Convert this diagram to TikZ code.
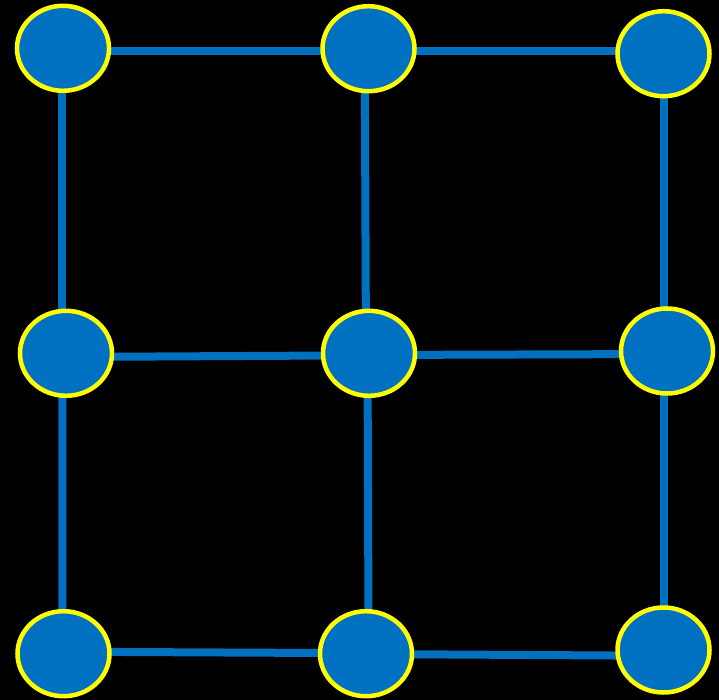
\documentclass[tikz,border=0pt]{standalone}
\usetikzlibrary{shapes.geometric,calc}
\definecolor{nodeblue}{HTML}{0070C0}
\definecolor{rimyellow}{HTML}{FFFF00}
\pgfdeclarelayer{backdrop}
\pgfdeclarelayer{bg}
\pgfsetlayers{backdrop,bg,main}
\tikzset{
  vert/.style={ellipse, fill=nodeblue, draw=rimyellow, line width=4.5pt, minimum width=92pt, minimum height=85pt, inner sep=0pt},
  link/.style={draw=nodeblue, line width=8pt}
}
\begin{document}
\begin{tikzpicture}[x=1pt,y=-1pt]
\begin{pgfonlayer}{backdrop}
\fill[black] (0,0) rectangle (719,700);
\end{pgfonlayer}
\useasboundingbox (0,0) rectangle (719,700);
\node[vert] (a1) at (63,48.3) {};
\node[vert] (a2) at (368.5,48.7) {};
\node[vert] (a3) at (663.5,53.7) {};
\node[vert] (b1) at (66,353.3) {};
\node[vert] (b2) at (369,353.3) {};
\node[vert] (b3) at (667,351) {};
\node[vert] (c1) at (63.5,653.7) {};
\node[vert] (c2) at (366,653.7) {};
\node[vert] (c3) at (663.5,650) {};
\begin{pgfonlayer}{bg}
\path[link] ($(a1)+(0,2.7)$) -- ($(a2)+(0,2.3)$);
\path[link] ($(a2)+(0,2.3)$) -- ($(a3)+(0,-2.7)$);
\path[link] ($(b1)+(0,3.7)$) -- ($(b2)+(0,2)$);
\path[link] ($(b2)+(0,1.7)$) -- ($(b3)+(0,3)$);
\path[link] ($(c1)+(0,-2)$) -- ($(c2)+(0,-0.5)$);
\path[link] ($(c2)+(0,0.3)$) -- ($(c3)+(0,5.8)$);
\path[link] ($(a1)+(-0.6,0)$) -- ($(b1)+(-3.6,0)$);
\path[link] ($(b1)+(-3.6,0)$) -- ($(c1)+(-1,0)$);
\path[link] ($(a2)+(-3.8,0)$) -- ($(b2)+(-3,0)$);
\path[link] ($(b2)+(-1.5,0)$) -- ($(c2)+(2.6,0)$);
\path[link] ($(a3)+(0.5,0)$) -- ($(b3)+(-3,0)$);
\path[link] ($(b3)+(-3,0)$) -- ($(c3)+(0.5,0)$);
\end{pgfonlayer}
\end{tikzpicture}
\end{document}
